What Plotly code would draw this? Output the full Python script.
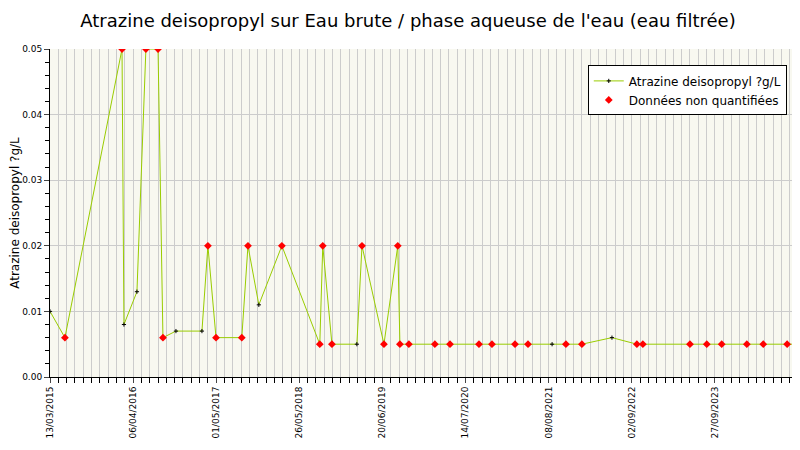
import pandas as pd
import plotly.graph_objects as go

# sample dates and values (µg/L)
dates = ["2015-03-13", "2015-05-22", "2016-02-14", "2016-02-23", "2016-04-24", "2016-06-05",
         "2016-08-01", "2016-08-24", "2016-10-24", "2017-02-23", "2017-03-23", "2017-04-30",
         "2017-08-29", "2017-09-27", "2017-11-17", "2018-03-05", "2018-08-30", "2018-09-13",
         "2018-10-26", "2019-02-20", "2019-03-16", "2019-06-27", "2019-08-31", "2019-09-10",
         "2019-10-22", "2020-02-21", "2020-05-02", "2020-09-15", "2020-11-15", "2021-03-03",
         "2021-05-03", "2021-08-24", "2021-10-28", "2022-01-11", "2022-06-01", "2022-09-26",
         "2022-10-24", "2023-06-02", "2023-08-20", "2023-10-29", "2024-02-24", "2024-05-11",
         "2024-08-31", "2024-10-21"]
values = [0.01, 0.006, 0.05, 0.008, 0.013, 0.05,
          0.05, 0.006, 0.007, 0.007, 0.02, 0.006,
          0.006, 0.02, 0.011, 0.02, 0.005, 0.02,
          0.005, 0.005, 0.02, 0.005, 0.02, 0.005,
          0.005, 0.005, 0.005, 0.005, 0.005, 0.005,
          0.005, 0.005, 0.005, 0.005, 0.006, 0.005,
          0.005, 0.005, 0.005, 0.005, 0.005, 0.005,
          0.005, 0.005]
# 1 = non quantified
non_quant = [0, 1, 1, 0, 0, 1,
             1, 1, 0, 0, 1, 1,
             1, 1, 0, 1, 1, 1,
             1, 0, 1, 1, 1, 1,
             1, 1, 1, 1, 1, 1,
             1, 0, 1, 1, 0, 1,
             1, 1, 1, 1, 1, 1,
             1, 1]
tick_dates = ["2015-03-13", "2016-04-06", "2017-05-01", "2018-05-26", "2019-06-20",
              "2020-07-14", "2021-08-08", "2022-09-02", "2023-09-27", "2024-10-21"]

df = pd.DataFrame({"date": pd.to_datetime(dates), "value": values, "nq": non_quant})
dfnq = df[df.nq == 1]
ticks = pd.to_datetime(tick_dates)

fig = go.Figure()
fig.add_trace(go.Scatter(
    x=df.date, y=df.value, mode="lines+markers", name="Atrazine deisopropyl ?g/L",
    line=dict(color="#99cc00", width=1),
    marker=dict(color="black", size=3, symbol="cross-thin", line=dict(color="black", width=1))
))
fig.add_trace(go.Scatter(
    x=dfnq.date, y=dfnq.value, mode="markers", name="Données non quantifiées",
    marker=dict(color="red", size=6, symbol="diamond")
))

fig.update_layout(
    width=800, height=450,
    margin=dict(l=42, r=10, t=41, b=81),
    paper_bgcolor="white", plot_bgcolor="#f8f8f0",
    font=dict(family="DejaVu Sans", size=9, color="black"),
    title=dict(text="Atrazine deisopropyl sur Eau brute / phase aqueuse de l'eau (eau filtrée)",
               x=0.5, y=0.985, xanchor="center", yanchor="top", font=dict(size=18)),
    showlegend=True,
    legend=dict(x=0.985, y=0.95, xanchor="right", yanchor="top", bgcolor="white",
                bordercolor="black", borderwidth=1, font=dict(size=12)),
)
fig.update_xaxes(
    range=[ticks[0], ticks[-1]], tickvals=ticks, automargin=False,
    ticktext=[d.strftime("%d/%m/%Y") for d in ticks], tickangle=-90,
    showgrid=True, gridcolor="#cccccc",
    minor=dict(dtick=39 * 86400000, tick0=ticks[0], showgrid=True, gridcolor="#cccccc",
               ticks="outside", ticklen=5, tickcolor="black"),
    ticks="outside", ticklen=5, showline=True, linecolor="black", zeroline=False,
)
fig.update_yaxes(
    range=[0, 0.05], dtick=0.01, tickformat=".2f", automargin=False,
    title=dict(text="Atrazine deisopropyl ?g/L", font=dict(size=12), standoff=2),
    showgrid=True, gridcolor="#cccccc",
    minor=dict(dtick=0.002, ticks="outside", ticklen=4, tickcolor="black"),
    ticks="outside", ticklen=5, showline=True, linecolor="black", zeroline=False,
)

fig.write_html("out.html")
